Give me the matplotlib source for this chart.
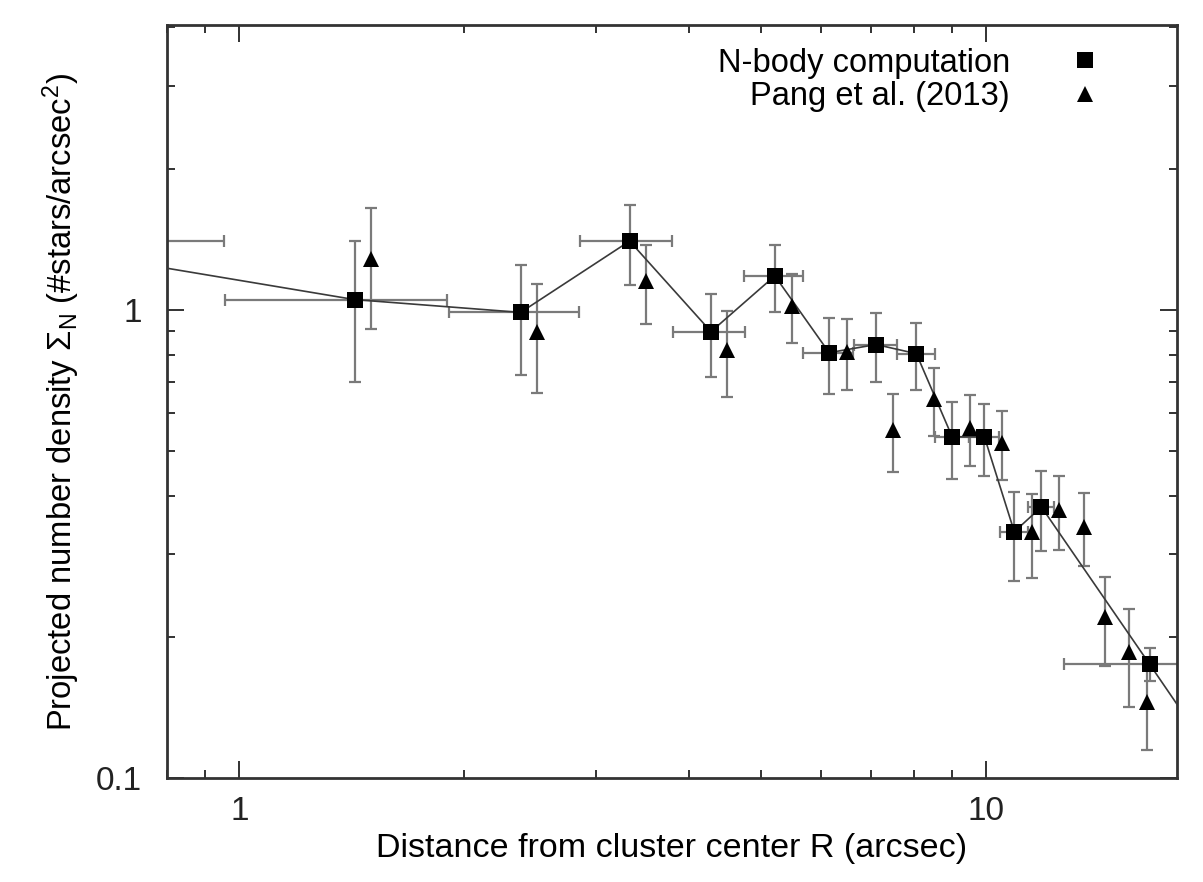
import matplotlib
matplotlib.use("Agg")
import matplotlib.pyplot as plt
from matplotlib import ticker
from matplotlib.lines import Line2D

plt.rcParams["font.family"] = ["Liberation Sans", "DejaVu Sans"]
plt.rcParams["mathtext.fontset"] = "custom"
plt.rcParams["mathtext.rm"] = "Liberation Sans"
plt.rcParams["mathtext.it"] = "Liberation Sans:italic"

# N-body computation (squares), binned in R
nbody_r = [0.485, 1.427, 2.38, 3.33, 4.28, 5.21, 6.16, 7.12, 8.06, 9.00,
           9.94, 10.9, 11.85, 16.54, 22.0]
nbody_rerr = [0.47, 0.47, 0.47, 0.47, 0.47, 0.47, 0.47, 0.47, 0.47, 0.47,
              0.47, 0.47, 0.47, 3.85, 1.6]
nbody_sigma = [1.40, 1.05, 0.986, 1.40, 0.897, 1.18, 0.809, 0.842, 0.805, 0.535,
               0.535, 0.3355, 0.379, 0.175, 0.09]
nbody_err = [0.30, 0.35, 0.26, 0.27, 0.18, 0.19, 0.15, 0.14, 0.13, 0.10,
             0.094, 0.072, 0.074, 0.014, 0.01]

# Pang et al. (2013) (triangles)
pang_r = [1.5, 2.5, 3.5, 4.5, 5.5, 6.5, 7.5, 8.5, 9.5, 10.5,
          11.5, 12.5, 13.5, 14.4, 15.5, 16.4]
pang_sigma = [1.28, 0.897, 1.15, 0.821, 1.02, 0.813, 0.554, 0.645, 0.560, 0.520,
              0.3355, 0.374, 0.344, 0.221, 0.186, 0.145]
pang_err = [0.37, 0.235, 0.22, 0.17, 0.17, 0.14, 0.105, 0.107, 0.096, 0.088,
            0.068, 0.068, 0.061, 0.048, 0.044, 0.03]

ERR_COLOR = "#7a7a7a"

fig = plt.figure(figsize=(12.03, 8.82), dpi=100)
ax = fig.add_axes([0.1388, 0.1179, 0.8396, 0.8538])

ax.errorbar(nbody_r, nbody_sigma, xerr=nbody_rerr, yerr=nbody_err, fmt="none",
            ecolor=ERR_COLOR, elinewidth=1.6, capsize=4, capthick=1.6, zorder=2)
ax.errorbar(pang_r, pang_sigma, yerr=pang_err, fmt="none",
            ecolor=ERR_COLOR, elinewidth=1.6, capsize=4, capthick=1.6, zorder=2)
ax.plot(nbody_r, nbody_sigma, "-", color="#3a3a3a", lw=1.2, zorder=3)
ax.plot(nbody_r, nbody_sigma, "s", color="black", ms=11, mew=0, zorder=4)
ax.plot(pang_r, pang_sigma, "^", color="black", ms=12, mew=0, zorder=4)

ax.set_xscale("log")
ax.set_yscale("log")
ax.set_xlim(0.8, 18)
ax.set_ylim(0.1, 4.05)

fmt = ticker.FuncFormatter(lambda v, _: f"{v:g}")
ax.xaxis.set_major_formatter(fmt)
ax.yaxis.set_major_formatter(fmt)
ax.xaxis.set_minor_formatter(ticker.NullFormatter())
ax.yaxis.set_minor_formatter(ticker.NullFormatter())
ax.tick_params(which="both", direction="in", top=True, right=True,
               labelsize=24, width=1.3, colors="#222222")
ax.tick_params(which="major", length=12)
ax.tick_params(axis="x", which="major", pad=13)
ax.tick_params(axis="y", which="major", pad=18)
ax.tick_params(which="minor", length=6)
for s in ax.spines.values():
    s.set_linewidth(2)
    s.set_color("#333333")

ax.set_xlabel("Distance from cluster center R (arcsec)", fontsize=24.5, labelpad=4)
ax.set_ylabel(r"Projected number density $\Sigma_{\rm N}$ (#stars/arcsec$^2$)",
              fontsize=23.6, labelpad=10)

handles = [Line2D([], [], ls="none", marker="s", color="black", ms=11, mew=0),
           Line2D([], [], ls="none", marker="^", color="black", ms=12, mew=0)]
ax.legend(handles, ["N-body computation", "Pang et al. (2013)"], loc="upper right",
          bbox_to_anchor=(0.946, 0.987), frameon=False, markerfirst=False,
          fontsize=23.5, handlelength=1.5, handletextpad=1.55, labelspacing=0.08,
          borderaxespad=0)

fig.savefig("out.png", dpi=100)
